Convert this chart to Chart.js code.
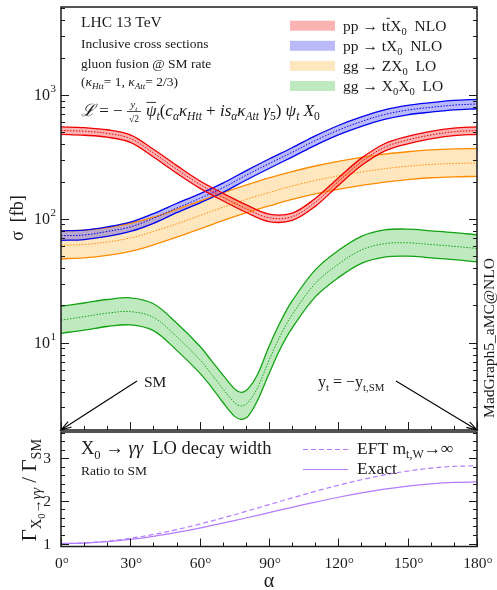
<!DOCTYPE html>
<html>
<head>
<meta charset="utf-8">
<script src="https://cdn.jsdelivr.net/npm/chart.js@4.4.1/dist/chart.umd.min.js"></script>
<style>
html, body { margin: 0; padding: 0; background: #fff; }
#wrap { position: relative; width: 497px; height: 590px; }
canvas { position: absolute; left: 0; top: 0; }
</style>
</head>
<body>
<div id="wrap">
  <canvas id="upper" width="497" height="590"></canvas>
  <canvas id="lower" width="497" height="590"></canvas>
</div>
<script>
// Mixing angle alpha (degrees)
const alpha = [0, 10, 20, 30, 40, 50, 60, 70, 80, 90, 100, 110, 120, 130, 140, 150, 160, 170, 180];

// pp -> ttX0 NLO [fb]
const ttx0Mid = [517, 509, 490, 445, 340, 252, 190, 150, 121, 102, 104, 136, 200, 289, 378, 433, 475, 505, 517];
const ttx0Up  = [553, 545, 524, 476, 364, 270, 203, 161, 130, 109, 111, 146, 214, 309, 404, 463, 508, 540, 553];
const ttx0Lo  = [481, 473, 456, 414, 316, 234, 177, 140, 113, 95, 97, 126, 186, 269, 352, 403, 442, 470, 481];

// pp -> tX0 NLO [fb]
const tx0Mid = [73, 74, 79, 86, 101, 122, 146, 178, 224, 279, 344, 428, 520, 610, 695, 756, 795, 828, 846];
const tx0Up  = [80, 81, 86, 94, 110, 133, 159, 194, 244, 304, 375, 467, 567, 665, 758, 824, 867, 903, 922];
const tx0Lo  = [67, 68, 72, 79, 92, 112, 134, 163, 205, 255, 315, 392, 476, 558, 636, 692, 727, 758, 774];

// gg -> ZX0 LO [fb]
const zx0Mid = [61, 62, 65, 70, 79, 91, 106, 124, 143, 163, 184, 204, 222, 239, 254, 266, 275, 280, 282];
const zx0Up  = [80, 81, 85, 92, 103, 119, 139, 162, 187, 214, 241, 267, 291, 313, 333, 348, 360, 367, 369];
const zx0Lo  = [47.6, 48.4, 50.7, 54.6, 61.6, 71, 82.7, 96.7, 111.5, 127, 143.5, 159, 173, 186, 198, 207.5, 214.5, 218.4, 220];

// gg -> X0X0 LO [fb] (finer around the dip)
const alphaXX = [0, 10, 20, 30, 40, 50, 60, 65, 70, 75, 78, 81, 85, 90, 95, 100, 110, 120, 130, 140, 150, 160, 170, 180];
const x0x0Mid = [15.2, 16.2, 17.3, 17.8, 16.0, 11.2, 7.3, 5.6, 4.25, 3.3, 3.08, 3.3, 4.3, 7.2, 11.5, 16.8, 30, 43, 56, 63, 64, 62, 60, 57.6];
const x0x0Up  = [19.6, 20.9, 22.3, 23.0, 20.6, 14.4, 9.4, 7.2, 5.5, 4.25, 3.97, 4.25, 5.5, 9.3, 14.8, 21.7, 38.7, 55.5, 72.2, 81.3, 82.6, 80, 77.4, 74.3];
const x0x0Lo  = [11.9, 12.6, 13.5, 13.9, 12.5, 8.7, 5.7, 4.4, 3.3, 2.55, 2.4, 2.55, 3.4, 5.6, 9.0, 13.1, 23.4, 33.5, 43.7, 49.1, 49.9, 48.4, 46.8, 44.9];

// X0 -> gamma gamma width, ratio to SM
const eftRatio   = [1.000, 1.014, 1.055, 1.122, 1.213, 1.326, 1.456, 1.601, 1.754, 1.913, 2.071, 2.225, 2.369, 2.499, 2.612, 2.703, 2.771, 2.812, 2.825];
const exactRatio = [1.000, 1.011, 1.044, 1.098, 1.170, 1.260, 1.363, 1.478, 1.600, 1.726, 1.851, 1.973, 2.087, 2.189, 2.278, 2.350, 2.403, 2.436, 2.446];

// Tick labels
const angleTicks = [0, 30, 60, 90, 120, 150, 180];
const decadeTicks = [1, 2, 3];   // exponents of 10
const ratioTicks = [1, 2, 3];

const SERIF = '"Liberation Serif", "DejaVu Serif", serif';
const INK = '#1a1a1a';
const PURPLE = '#b47cff';

function pts(xs, ys) {
    return xs.map((x, i) => ({ x: x, y: ys[i] }));
}

function band(xs, up, mid, lo, line, fillColor) {
    const common = { pointRadius: 0, tension: 0.35 };
    return [
        Object.assign({ data: pts(xs, up), borderColor: line, borderWidth: 1.3, backgroundColor: fillColor, fill: '+1' }, common),
        Object.assign({ data: pts(xs, lo), borderColor: line, borderWidth: 1.3, fill: false }, common),
        Object.assign({ data: pts(xs, mid), borderColor: line, borderWidth: 1, borderDash: [1.5, 1.5], fill: false }, common)
    ];
}

function font(size, italic) {
    return (italic ? 'italic ' : '') + size + 'px ' + SERIF;
}

// draw text made of pieces: [text, kind] with kind containing sub / sup / ss / i / bar
function drawRich(ctx, x, y, segs, size, align) {
    const parts = segs.map(([t, k = '']) => {
        let s = size, dy = 0;
        if (k.includes('ss')) { s = size * 0.5; dy = size * 0.42; }
        else if (k.includes('sub')) { s = size * 0.68; dy = size * 0.25; }
        else if (k.includes('sup')) { s = size * 0.68; dy = -size * 0.42; }
        ctx.font = font(s, k.includes('i'));
        return { t, k, s, dy, w: ctx.measureText(t).width };
    });
    const total = parts.reduce((a, p) => a + p.w, 0);
    let cx = align === 'center' ? x - total / 2 : align === 'right' ? x - total : x;
    ctx.textAlign = 'left';
    ctx.textBaseline = 'alphabetic';
    for (const p of parts) {
        ctx.font = font(p.s, p.k.includes('i'));
        ctx.fillText(p.t, cx, y + p.dy);
        if (p.k.includes('bar')) {
            ctx.save();
            ctx.lineWidth = 0.9;
            ctx.beginPath();
            ctx.moveTo(cx + 0.5, y - p.s * 0.8);
            ctx.lineTo(cx + p.w - 0.5, y - p.s * 0.8);
            ctx.stroke();
            ctx.restore();
        }
        cx += p.w;
    }
    return cx;
}

function arrow(ctx, x1, y1, x2, y2) {
    const ang = Math.atan2(y2 - y1, x2 - x1);
    ctx.beginPath();
    ctx.moveTo(x1, y1);
    ctx.lineTo(x2, y2);
    ctx.moveTo(x2 - 11 * Math.cos(ang - 0.3), y2 - 11 * Math.sin(ang - 0.3));
    ctx.lineTo(x2, y2);
    ctx.lineTo(x2 - 11 * Math.cos(ang + 0.3), y2 - 11 * Math.sin(ang + 0.3));
    ctx.stroke();
}

function xTicks(ctx, xs, yEdge, dir) {
    for (let v = 0; v <= 180; v += 10) {
        const px = Math.round(xs.getPixelForValue(v)) + 0.5;
        const len = v % 30 === 0 ? 8 : 4;
        ctx.beginPath();
        ctx.moveTo(px, yEdge);
        ctx.lineTo(px, yEdge + dir * len);
        ctx.stroke();
    }
}

function yTick(ctx, a, py, len) {
    py = Math.round(py) + 0.5;
    ctx.beginPath();
    ctx.moveTo(a.left, py); ctx.lineTo(a.left + len, py);
    ctx.moveTo(a.right, py); ctx.lineTo(a.right - len, py);
    ctx.stroke();
}

const upperDecor = {
    id: 'upperDecor',
    afterDraw(chart) {
        const { ctx, chartArea: a } = chart;
        const xs = chart.scales.x, ys = chart.scales.y;
        ctx.save();
        ctx.strokeStyle = INK;
        ctx.fillStyle = INK;
        ctx.lineWidth = 1;

        // ticks
        xTicks(ctx, xs, a.bottom, -1);
        for (let e = 0; e <= 3; e++) {
            for (let m = 1; m <= 9; m++) {
                const v = m * Math.pow(10, e);
                if (v < ys.min || v > ys.max) continue;
                yTick(ctx, a, ys.getPixelForValue(v), m === 1 ? 8 : 4);
            }
        }

        // frame
        ctx.lineWidth = 1.5;
        ctx.strokeRect(a.left, a.top, a.right - a.left, a.bottom - a.top);

        // y tick labels 10^n
        for (const e of decadeTicks) {
            const py = ys.getPixelForValue(Math.pow(10, e));
            ctx.font = font(16);
            ctx.textAlign = 'right';
            ctx.textBaseline = 'alphabetic';
            ctx.fillText('10', 50, py + 5.5);
            ctx.font = font(11);
            ctx.textAlign = 'left';
            ctx.fillText(String(e), 50.5, py - 3);
        }

        // y axis title
        ctx.save();
        ctx.translate(23, 218);
        ctx.rotate(-Math.PI / 2);
        drawRich(ctx, 0, 0, [['σ'], ['  [fb]']], 18, 'center');
        ctx.restore();

        // right side label
        ctx.save();
        ctx.translate(494, 338);
        ctx.rotate(-Math.PI / 2);
        drawRich(ctx, 0, 0, [['MadGraph5_aMC@NLO']], 15.5, 'center');
        ctx.restore();

        // info text
        drawRich(ctx, 81, 27, [['LHC 13 TeV']], 15.5);
        drawRich(ctx, 81, 48, [['Inclusive cross sections']], 13.5);
        drawRich(ctx, 81, 67.5, [['gluon fusion @ SM rate']], 13.5);
        drawRich(ctx, 81, 86, [['('], ['κ', 'i'], ['Htt', 'isub'], ['= 1, '], ['κ', 'i'], ['Att', 'isub'], ['= 2/3)']], 13.5);

        // Lagrangian
        let cx = drawRich(ctx, 81, 116, [['ℒ', 'i'], [' = − ']], 17);
        const fc = cx + 7;
        drawRich(ctx, fc, 108, [['y', 'i'], ['t', 'isub']], 10.5, 'center');
        ctx.lineWidth = 0.8;
        ctx.beginPath(); ctx.moveTo(fc - 7, 111.5); ctx.lineTo(fc + 7, 111.5); ctx.stroke();
        drawRich(ctx, fc, 122, [['√2']], 9.5, 'center');
        cx = fc + 12;
        drawRich(ctx, cx, 116, [
            ['ψ', 'ibar'], ['t', 'isub'], ['('], ['c', 'i'], ['α', 'isub'], ['κ', 'i'], ['Htt', 'isub'],
            [' + '], ['is', 'i'], ['α', 'isub'], ['κ', 'i'], ['Att', 'isub'], [' γ', 'i'], ['5', 'sub'],
            [')'], [' ψ', 'i'], ['t', 'isub'], [' X', 'i'], ['0', 'sub']
        ], 17);

        // legend
        const legendRows = [
            ['rgba(240,0,0,0.30)', [['pp → t'], ['t', 'bar'], ['X'], ['0', 'sub'], ['  NLO']]],
            ['rgba(0,0,235,0.27)', [['pp → tX'], ['0', 'sub'], ['  NLO']]],
            ['rgba(250,160,0,0.25)', [['gg → ZX'], ['0', 'sub'], ['  LO']]],
            ['rgba(0,170,0,0.25)', [['gg → X'], ['0', 'sub'], ['X'], ['0', 'sub'], ['  LO']]]
        ];
        legendRows.forEach(([c, segs], i) => {
            const yc = 25.7 + i * 20.1;
            ctx.fillStyle = c;
            ctx.fillRect(290, yc - 5, 45, 10);
            ctx.fillStyle = INK;
            drawRich(ctx, 343, yc + 5, segs, 15.5);
        });

        // arrows to SM and flipped-sign points
        ctx.lineWidth = 1.1;
        ctx.strokeStyle = '#000';
        arrow(ctx, 137, 381, xs.getPixelForValue(0), a.bottom);
        arrow(ctx, 396, 381, xs.getPixelForValue(180), a.bottom);
        drawRich(ctx, 144, 386.5, [['SM']], 15.5);
        drawRich(ctx, 318, 386.5, [['y'], ['t', 'sub'], [' = −y'], ['t,SM', 'sub']], 16);
        ctx.restore();
    }
};

const lowerDecor = {
    id: 'lowerDecor',
    afterDraw(chart) {
        const { ctx, chartArea: a } = chart;
        const xs = chart.scales.x, ys = chart.scales.y;
        ctx.save();
        ctx.strokeStyle = INK;
        ctx.fillStyle = INK;
        ctx.lineWidth = 1;

        xTicks(ctx, xs, a.bottom, -1);
        for (let k = 0; k <= 13; k++) {
            const v = 1 + k * 0.2;
            if (v > ys.max) break;
            yTick(ctx, a, ys.getPixelForValue(v), k % 5 === 0 ? 8 : 4);
        }

        ctx.lineWidth = 1.5;
        ctx.strokeRect(a.left, a.top, a.right - a.left, a.bottom - a.top);

        // tick labels
        ctx.font = font(15.5);
        ctx.textBaseline = 'middle';
        ctx.textAlign = 'right';
        for (const v of ratioTicks) ctx.fillText(String(v), 51, ys.getPixelForValue(v) + 1);
        ctx.textBaseline = 'alphabetic';
        ctx.textAlign = 'center';
        for (const v of angleTicks) ctx.fillText(v + '°', xs.getPixelForValue(v) + 1, 568);

        ctx.font = font(20);
        ctx.fillText('α', (a.left + a.right) / 2, 587);

        // y axis title
        ctx.save();
        ctx.translate(36, 490);
        ctx.rotate(-Math.PI / 2);
        drawRich(ctx, 0, 0, [['Γ'], ['X', 'sub'], ['0', 'ss'], ['→', 'sub'], ['γγ', 'isub'], [' / Γ'], ['SM', 'sub']], 21, 'center');
        ctx.restore();

        // text
        drawRich(ctx, 81, 454, [['X'], ['0', 'sub'], [' → '], ['γγ', 'i'], ['  LO decay width']], 18.5);
        drawRich(ctx, 81, 475, [['Ratio to SM']], 13.5);

        // legend
        ctx.strokeStyle = PURPLE;
        ctx.lineWidth = 1.2;
        ctx.setLineDash([5, 3]);
        ctx.beginPath(); ctx.moveTo(303, 449.5); ctx.lineTo(348, 449.5); ctx.stroke();
        ctx.setLineDash([]);
        ctx.beginPath(); ctx.moveTo(303, 469.5); ctx.lineTo(348, 469.5); ctx.stroke();
        ctx.fillStyle = INK;
        drawRich(ctx, 357, 454, [['EFT m'], ['t,W', 'sub'], ['→∞']], 17.5);
        drawRich(ctx, 357, 474, [['Exact']], 17.5);
        ctx.restore();
    }
};

Chart.defaults.font.family = SERIF;

new Chart(document.getElementById('upper'), {
    type: 'line',
    data: {
        datasets: [].concat(
            band(alpha, ttx0Up, ttx0Mid, ttx0Lo, '#f00000', 'rgba(240,0,0,0.30)'),
            band(alpha, tx0Up, tx0Mid, tx0Lo, '#0000f0', 'rgba(0,0,235,0.27)'),
            band(alpha, zx0Up, zx0Mid, zx0Lo, '#ff8c00', 'rgba(250,160,0,0.25)'),
            band(alphaXX, x0x0Up, x0x0Mid, x0x0Lo, '#12a312', 'rgba(0,170,0,0.25)')
        )
    },
    options: {
        responsive: false,
        devicePixelRatio: 1,
        animation: false,
        layout: { padding: { left: 61, right: 20, top: 7, bottom: 160 } },
        plugins: {
            legend: { display: false },
            tooltip: { enabled: false },
            filler: { drawTime: 'beforeDatasetsDraw' }
        },
        scales: {
            x: { type: 'linear', min: 0, max: 180, display: false },
            y: { type: 'logarithmic', min: 1.97, max: 5135, display: false, bounds: 'data' }
        }
    },
    plugins: [upperDecor]
});

new Chart(document.getElementById('lower'), {
    type: 'line',
    data: {
        datasets: [
            { data: pts(alpha, eftRatio), borderColor: PURPLE, borderWidth: 1.2, borderDash: [5, 3], pointRadius: 0, fill: false, tension: 0.35 },
            { data: pts(alpha, exactRatio), borderColor: PURPLE, borderWidth: 1.2, pointRadius: 0, fill: false, tension: 0.35 }
        ]
    },
    options: {
        responsive: false,
        devicePixelRatio: 1,
        animation: false,
        layout: { padding: { left: 61, right: 20, top: 432, bottom: 43.5 } },
        plugins: { legend: { display: false }, tooltip: { enabled: false } },
        scales: {
            x: { type: 'linear', min: 0, max: 180, display: false },
            y: { type: 'linear', min: 0.93, max: 3.62, display: false }
        }
    },
    plugins: [lowerDecor]
});
</script>
</body>
</html>
